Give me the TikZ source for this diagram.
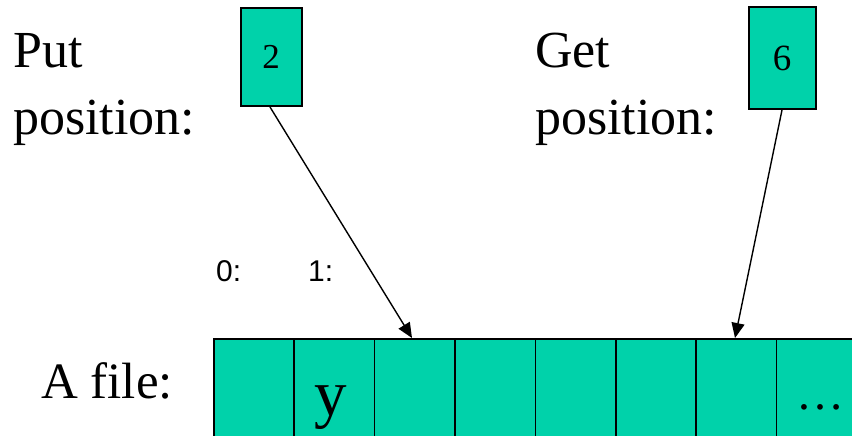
\documentclass[tikz,border=0pt]{standalone}
\usepackage{fontspec}
\setmainfont{Liberation Serif}
\newfontfamily\labelsans{Liberation Sans}
\usetikzlibrary{arrows.meta}
\definecolor{teal1}{RGB}{0,210,170}
\tikzset{
  posbox/.style={draw=black, line width=2pt, fill=teal1, minimum width=61pt, minimum height=98pt, inner sep=0pt, font=\fontsize{35}{40}\selectfont},
  cellbox/.style={draw=black, line width=1.6pt, fill=teal1, minimum width=80.4pt, minimum height=100pt, inner sep=0pt, anchor=north west},
  bigtext/.style={font=\fontsize{52}{66}\selectfont, inner sep=0pt, align=left},
  idx/.style={font=\labelsans\fontsize{30}{34}\selectfont, inner sep=0pt, anchor=base west},
  ptr/.style={line width=1.4pt, -{Triangle[length=15pt,width=13pt]}}
}
\begin{document}
\begin{tikzpicture}[x=1pt,y=-1pt]
\useasboundingbox (0,0) rectangle (852,436);
% text labels
\node[bigtext, anchor=base west] (put) at (13,67) {Put};
\node[bigtext, anchor=base west] (putpos) at (13,135) {position:};
\node[bigtext, anchor=base west] (get) at (535,67) {Get};
\node[bigtext, anchor=base west] (getpos) at (535,135) {position:};
\node[bigtext, anchor=base west, font=\fontsize{51}{60}\selectfont] (afile) at (41,398) {A file:};
% pointer boxes
\node[posbox] (pbox) at (271,57) {2};
\node[posbox, minimum width=67pt, minimum height=102pt, font=\fontsize{37}{40}\selectfont] (gbox) at (782,58) {6};
% index labels
\node[idx] (i0) at (216,281) {0:};
\node[idx] (i1) at (308,281) {1:};
% file cells
\foreach \i in {0,...,7} {
  \node[cellbox] (c\i) at ({213+80.4*\i},338) {};
}
\node[anchor=base, inner sep=0pt, font=\fontsize{65}{70}\selectfont] (ychar) at ([xshift=-4pt]c1.center |- 0,415) {y};
\node[anchor=base, inner sep=0pt, font=\fontsize{48}{50}\selectfont] (dots) at (820,409) {…};
% arrows
\coordinate (ptip) at (412,338);
\coordinate (gtip) at (735,338);
\draw[ptr] ([xshift=-1pt]pbox.south) -- (ptip);
\draw[ptr] (gbox.south) -- (gtip);
\end{tikzpicture}
\end{document}
